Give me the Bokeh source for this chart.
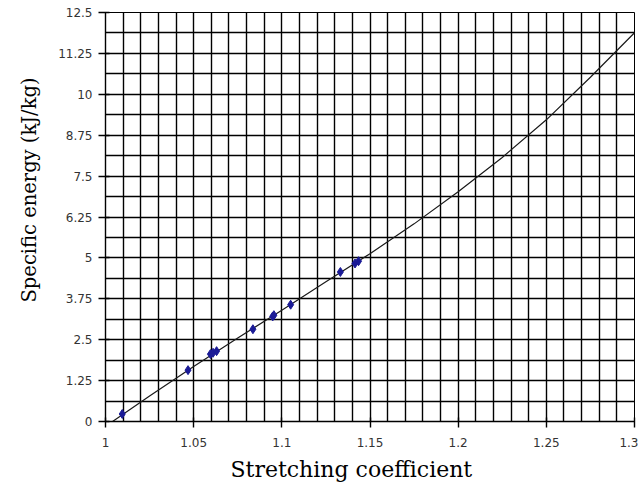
from bokeh.plotting import figure
from bokeh.models import FixedTicker, CustomJSTickFormatter, Title
from bokeh.embed import file_html
from bokeh.resources import INLINE

# axis ticks and labels
x_ticks = [1.0, 1.05, 1.1, 1.15, 1.2, 1.25, 1.3]
x_labels = ["1", "1.05", "1.1", "1.15", "1.2", "1.25", "1.3"]
y_ticks = [0, 1.25, 2.5, 3.75, 5, 6.25, 7.5, 8.75, 10, 11.25, 12.5]
y_labels = ["0", "1.25", "2.5", "3.75", "5", "6.25", "7.5", "8.75", "10", "11.25", "12.5"]

# measured points
pt_x = [1.0095, 1.0468, 1.0595, 1.061, 1.063, 1.0836, 1.0948, 1.0955, 1.105, 1.1332, 1.1415, 1.1435]
pt_y = [0.23, 1.57, 2.06, 2.10, 2.15, 2.82, 3.21, 3.25, 3.57, 4.57, 4.83, 4.90]

# fitted curve
line_x = [1.004, 1.025, 1.05, 1.075, 1.1, 1.125, 1.15, 1.175, 1.2, 1.225, 1.25, 1.275, 1.3]
line_y = [0.0, 0.78, 1.68, 2.55, 3.40, 4.27, 5.13, 6.04, 7.02, 8.07, 9.22, 10.52, 11.88]

x_title = "Stretching coefficient"
y_title = "Specific energy  (kJ/kg)"

p = figure(frame_width=529, frame_height=409, x_range=(1.0, 1.3), y_range=(0, 12.5),
           output_backend="svg", toolbar_location=None,
           min_border_left=105, min_border_top=12, min_border_right=4, min_border_bottom=65)
p.background_fill_color = "white"
p.border_fill_color = "white"
p.outline_line_color = "black"
p.outline_line_width = 1

# grid every 0.01 and every 0.625
p.xgrid.ticker = FixedTicker(ticks=[round(1.0 + 0.01 * i, 2) for i in range(31)])
p.ygrid.ticker = FixedTicker(ticks=[0.625 * i for i in range(21)])
for g in (p.xgrid, p.ygrid):
    g.grid_line_color = "black"
    g.grid_line_width = 1.4
    g.grid_line_alpha = 1.0

fmt_code = "const i = tvals.findIndex(t => Math.abs(t - tick) < 1e-9); return i >= 0 ? tlabs[i] : '';"
p.xaxis.ticker = FixedTicker(ticks=x_ticks)
p.xaxis.formatter = CustomJSTickFormatter(args=dict(tvals=x_ticks, tlabs=x_labels), code=fmt_code)
p.yaxis.ticker = FixedTicker(ticks=y_ticks)
p.yaxis.formatter = CustomJSTickFormatter(args=dict(tvals=y_ticks, tlabs=y_labels), code=fmt_code)

for ax in (p.xaxis, p.yaxis):
    ax.axis_line_color = "black"
    ax.axis_line_width = 1.4
    ax.major_tick_line_color = "black"
    ax.major_tick_line_width = 1.4
    ax.major_tick_out = 6
    ax.major_tick_in = 4
    ax.minor_tick_out = 0
    ax.minor_tick_in = 0
    ax.major_label_text_font = "DejaVu Sans"
    ax.major_label_text_font_size = "12px"
    ax.major_label_text_color = "#333333"

p.yaxis.major_tick_out = 7
p.xaxis.major_label_standoff = 10
p.yaxis.major_label_standoff = 6

xt = Title(text=x_title, align="left", offset=125, standoff=10,
           text_font="DejaVu Serif", text_font_size="22px", text_font_style="normal",
           text_color="black")
p.add_layout(xt, "below")

yt = Title(text=y_title, align="left", offset=119, standoff=29,
           text_font="DejaVu Serif", text_font_size="19.5px", text_font_style="normal",
           text_color="black")
p.add_layout(yt, "left")

p.line(line_x, line_y, line_color="#1a1a1a", line_width=1.2)
p.scatter(pt_x, pt_y, marker="diamond", size=9, fill_color="#1a1a96", line_color="#1a1a96")

open("out.html", "w").write(file_html(p, INLINE))
